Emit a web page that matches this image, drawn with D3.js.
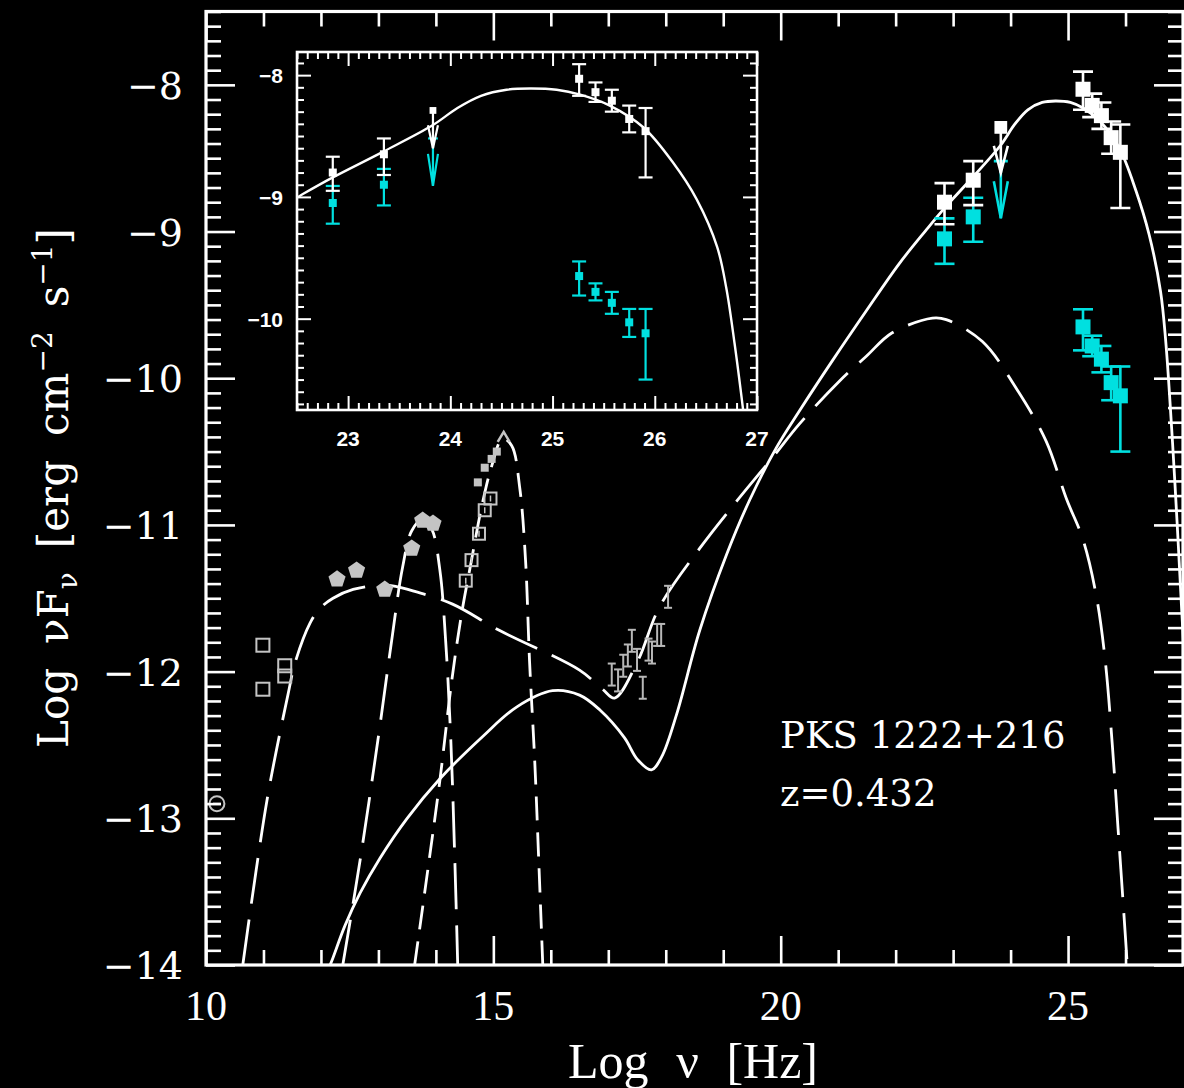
<!DOCTYPE html>
<html>
<head>
<meta charset="utf-8">
<script src="https://cdn.jsdelivr.net/npm/d3@7"></script>
<style>
  html, body { margin: 0; padding: 0; background: #000; }
  svg { display: block; }
</style>
</head>
<body>
<svg id="sed" width="1184" height="1088"></svg>
<script>
// model curves, [log nu, log nuFnu]
const solidModel = [[12.16,-14.0],[12.21,-13.95],[12.42,-13.73],[12.68,-13.51],[13.03,-13.27],[13.50,-13.00],
  [14.07,-12.73],[14.82,-12.44],[15.41,-12.24],[16.03,-12.13],[16.50,-12.16],[16.85,-12.26],[17.28,-12.45],
  [17.51,-12.60],[17.75,-12.67],[17.93,-12.58],[18.19,-12.29],[18.59,-11.72],[19.06,-11.20],[19.46,-10.83],
  [19.93,-10.47],[20.33,-10.22],[20.90,-9.88],[21.49,-9.54],[22.06,-9.22],[22.53,-8.99],[22.85,-8.84],
  [23.34,-8.63],[23.83,-8.41],[24.07,-8.27],[24.30,-8.17],[24.55,-8.12],[24.78,-8.11],[25.04,-8.12],
  [25.27,-8.16],[25.56,-8.25],[25.89,-8.43],[26.18,-8.72],[26.41,-9.02],[26.61,-9.41],[26.70,-9.75],
  [26.78,-10.20],[26.86,-10.72],[26.92,-11.15],[26.98,-11.6],[27.05,-12.1]];
const jetModel = [[10.64,-14.0],[11.06,-12.88],[11.43,-12.15],[11.55,-11.94],[11.81,-11.67],[11.98,-11.57],
  [12.21,-11.50],[12.56,-11.44],[13.15,-11.41],[13.60,-11.45],[14.29,-11.54],[15.11,-11.72],[16.50,-11.99],
  [16.90,-12.12],[17.11,-12.18],[17.51,-11.93],[17.89,-11.56],[18.59,-11.16],[19.23,-10.84],[19.86,-10.54],
  [20.33,-10.31],[21.02,-10.02],[21.49,-9.85],[21.94,-9.69],[22.64,-9.59],[22.88,-9.60],[23.51,-9.75],
  [24.10,-10.07],[24.62,-10.43],[24.97,-10.82],[25.26,-11.10],[25.49,-11.48],[25.64,-11.90],[25.77,-12.50],
  [25.87,-13.07],[25.99,-13.76],[26.03,-14.0]];
const torusModel = [[12.38,-14.0],[12.68,-13.29],[12.99,-12.47],[13.23,-11.79],[13.42,-11.29],[13.58,-11.04],
  [13.77,-10.96],[13.93,-11.03],[14.07,-11.31],[14.17,-11.79],[14.26,-12.47],[14.33,-13.29],[14.38,-14.0]];
const diskModel = [[13.63,-14.0],[13.86,-13.35],[14.07,-12.74],[14.28,-12.05],[14.45,-11.60],[14.62,-11.24],
  [14.80,-10.87],[14.97,-10.60],[15.16,-10.41],[15.32,-10.46],[15.46,-10.75],[15.56,-11.24],[15.63,-11.93],
  [15.72,-12.61],[15.79,-13.29],[15.86,-14.0]];

// archival points
const radioSquares = [[10.99,-11.82],[11.37,-11.96],[11.37,-12.03],[10.99,-12.12]];
const radioCircle = [[10.19,-12.90]];
const irPentagons = [[12.28,-11.37],[12.62,-11.31],[13.11,-11.44],[13.58,-11.16],[13.77,-10.97],[13.95,-10.99]];
const optSquares = [[14.52,-11.38],[14.62,-11.24],[14.75,-11.06],[14.85,-10.90],[14.95,-10.82]];
const uvDots = [[14.73,-10.71],[14.85,-10.61],[14.97,-10.55],[15.06,-10.50]];
const uvTriangle = [[15.18,-10.40]];
const xrayX = [17.06,17.17,17.26,17.34,17.41,17.50,17.60,17.70,17.76,17.85,17.92,18.04];
const xrayY = [-12.02,-12.06,-11.96,-11.89,-11.79,-11.92,-12.11,-11.85,-11.87,-11.75,-11.75,-11.49];
const xrayErr = 0.075;

// gamma-ray points: high state (white) and low state (cyan)
const latX = [22.85, 23.35];
const latHigh = [-8.80, -8.65], latHighUp = [0.13, 0.13], latHighDn = [0.15, 0.17];
const latLow = [-9.05, -8.90], latLowUp = [0.14, 0.13], latLowDn = [0.17, 0.17];
const ulX = [23.83];
const ulHigh = [-8.29], ulHighTip = [-8.60];
const ulLow = [-8.52], ulLowTip = [-8.91];
const vheX = [25.26, 25.42, 25.58, 25.75, 25.91];
const vheHigh = [-8.03, -8.14, -8.21, -8.36, -8.46];
const vheHighUp = [0.12, 0.08, 0.09, 0.11, 0.19], vheHighDn = [0.14, 0.08, 0.09, 0.11, 0.38];
const vheLow = [-9.65, -9.78, -9.87, -10.03, -10.12];
const vheLowUp = [0.12, 0.07, 0.09, 0.11, 0.20], vheLowDn = [0.16, 0.07, 0.09, 0.12, 0.38];

// axis ticks
const xMajor = [10, 15, 20, 25];
const xMinor = d3.range(10, 28).filter(v => v % 5 !== 0);
const yMajor = [-14, -13, -12, -11, -10, -9, -8];
const yMinor = d3.range(-140, -74).filter(v => v % 10 !== 0).map(v => v / 10);
const insetXMajor = [23, 24, 25, 26, 27];
const insetXMinor = d3.range(225, 271).filter(v => v % 10 !== 0).map(v => v / 10);
const insetYMajor = [-10, -9, -8];
const insetYMinor = d3.range(-107, -78).filter(v => v % 10 !== 0).map(v => v / 10);

const WHITE = '#ffffff', CYAN = '#00e0e0', GRAY = '#c4c4c4';

const svg = d3.select('#sed');
svg.append('rect').attr('width', 1184).attr('height', 1088).attr('fill', '#000');

const x = d3.scaleLinear().domain([10, 27]).range([206, 1183]);
const y = d3.scaleLinear().domain([-14, -7.5]).range([965, 11.5]);
const xi = d3.scaleLinear().domain([22.5, 27]).range([297, 757]);
const yi = d3.scaleLinear().domain([-10.75, -7.81]).range([410, 52]);

const defs = svg.append('defs');
defs.append('clipPath').attr('id', 'clipMain').append('rect')
  .attr('x', 206).attr('y', 11.5).attr('width', 977).attr('height', 953.5);
defs.append('clipPath').attr('id', 'clipInset').append('rect')
  .attr('x', 297).attr('y', 52).attr('width', 460).attr('height', 358);

const lineOf = (xs, ys) => d3.line()
  .x(d => xs(d[0])).y(d => ys(d[1]))
  .curve(d3.curveCatmullRom.alpha(0.5));

function frameTicks(g, xs, ys, xMaj, xMin, yMaj, yMin, lMaj, lMin, sw) {
  const [x0, x1] = xs.range(), [y0, y1] = ys.range();
  const sides = [
    [d3.axisBottom, xs, `translate(0,${y0})`, true],
    [d3.axisTop, xs, `translate(0,${y1})`, true],
    [d3.axisLeft, ys, `translate(${x0},0)`, false],
    [d3.axisRight, ys, `translate(${x1},0)`, false]
  ];
  sides.forEach(([ax, sc, tr, isX]) => {
    [[isX ? xMaj : yMaj, lMaj], [isX ? xMin : yMin, lMin]].forEach(([vals, len]) => {
      g.append('g').attr('transform', tr)
        .call(ax(sc).tickValues(vals).tickSize(-len).tickFormat(''))
        .call(s => s.select('.domain').remove())
        .selectAll('line').attr('stroke', WHITE).attr('stroke-width', sw);
    });
  });
  g.append('rect')
    .attr('x', x0).attr('y', y1).attr('width', x1 - x0).attr('height', y0 - y1)
    .attr('fill', 'none').attr('stroke', WHITE).attr('stroke-width', sw + 0.6);
}

function errBar(g, cx, yt, yb, cap, col, lw) {
  g.append('line').attr('x1', cx).attr('x2', cx).attr('y1', yt).attr('y2', yb)
    .attr('stroke', col).attr('stroke-width', lw);
  [yt, yb].forEach(v => g.append('line').attr('x1', cx - cap / 2).attr('x2', cx + cap / 2)
    .attr('y1', v).attr('y2', v).attr('stroke', col).attr('stroke-width', lw));
}

function square(g, cx, cy, s, col) {
  g.append('rect').attr('x', cx - s / 2).attr('y', cy - s / 2).attr('width', s).attr('height', s).attr('fill', col);
}

function arrow(g, cx, y0, y1, hl, hw, col, lw) {
  g.append('line').attr('x1', cx).attr('x2', cx).attr('y1', y0).attr('y2', y1)
    .attr('stroke', col).attr('stroke-width', lw);
  g.append('path').attr('d', `M${cx - hw},${y1 - hl}L${cx},${y1}L${cx + hw},${y1 - hl}`)
    .attr('fill', 'none').attr('stroke', col).attr('stroke-width', lw).attr('stroke-linejoin', 'miter');
}

function gammaPoints(g, xs, ys, o) {
  const sets = [
    [CYAN, latX, latLow, latLowUp, latLowDn],
    [CYAN, vheX, vheLow, vheLowUp, vheLowDn]
  ];
  // cyan upper limit
  ulX.forEach((v, i) => {
    const cx = xs(v);
    g.append('line').attr('x1', cx - o.cap * 0.35).attr('x2', cx + o.cap * 0.35)
      .attr('y1', ys(ulLow[i])).attr('y2', ys(ulLow[i])).attr('stroke', CYAN).attr('stroke-width', o.lw);
    arrow(g, cx, ys(ulLow[i]), ys(ulLowTip[i]), o.headC, o.hw, CYAN, o.lw);
  });
  sets.push([WHITE, latX, latHigh, latHighUp, latHighDn], [WHITE, vheX, vheHigh, vheHighUp, vheHighDn]);
  sets.forEach(([col, xv, yv, up, dn], k) => {
    if (k === 2) {
      ulX.forEach((v, i) => {
        const cx = xs(v);
        arrow(g, cx, ys(ulHigh[i]), ys(ulHighTip[i]), o.headW, o.hw, WHITE, o.lw);
        square(g, cx, ys(ulHigh[i]), o.sq * 0.85, WHITE);
      });
    }
    xv.forEach((v, i) => {
      const cx = xs(v);
      errBar(g, cx, ys(yv[i] + up[i]), ys(yv[i] - dn[i]), o.cap, col, o.lw);
      square(g, cx, ys(yv[i]), o.sq, col);
    });
  });
}

// stretch the word gaps so the label covers the given length
function fitWords(t, target) {
  const n = (t.text().match(/ /g) || []).length;
  const len = t.node().getComputedTextLength();
  if (n > 0 && target > len) t.style('word-spacing', ((target - len) / n) + 'px');
}

// ---------- main panel ----------
const plot = svg.append('g').attr('clip-path', 'url(#clipMain)');
const curveStyle = (p, dash, w) => p.attr('fill', 'none').attr('stroke', WHITE)
  .attr('stroke-width', w).attr('stroke-dasharray', dash);

curveStyle(plot.append('path').datum(diskModel).attr('d', lineOf(x, y)), '24,12', 2.8);
curveStyle(plot.append('path').datum(torusModel).attr('d', lineOf(x, y)), '46,16', 2.8);
curveStyle(plot.append('path').datum(jetModel).attr('d', lineOf(x, y)), '46,16', 2.8);
curveStyle(plot.append('path').datum(solidModel).attr('d', lineOf(x, y)), null, 2.8);

// archival data
const arch = plot.append('g');
radioSquares.forEach(d => arch.append('rect')
  .attr('x', x(d[0]) - 6.5).attr('y', y(d[1]) - 6.5).attr('width', 13).attr('height', 13)
  .attr('fill', 'none').attr('stroke', GRAY).attr('stroke-width', 2));
radioCircle.forEach(d => {
  arch.append('circle').attr('cx', x(d[0])).attr('cy', y(d[1])).attr('r', 7.5)
    .attr('fill', 'none').attr('stroke', GRAY).attr('stroke-width', 2);
  arch.append('line').attr('x1', x(d[0]) - 4).attr('x2', x(d[0]) + 4)
    .attr('y1', y(d[1])).attr('y2', y(d[1])).attr('stroke', GRAY).attr('stroke-width', 2);
});
const pent = d3.range(5).map(k => {
  const a = -Math.PI / 2 + k * 2 * Math.PI / 5;
  return [9 * Math.cos(a), 9 * Math.sin(a)];
});
irPentagons.forEach(d => arch.append('path')
  .attr('d', 'M' + pent.map(p => [x(d[0]) + p[0], y(d[1]) + p[1]].join(',')).join('L') + 'Z')
  .attr('fill', GRAY));
optSquares.forEach(d => {
  arch.append('rect')
    .attr('x', x(d[0]) - 6).attr('y', y(d[1]) - 6).attr('width', 12).attr('height', 12)
    .attr('fill', 'none').attr('stroke', GRAY).attr('stroke-width', 2);
  arch.append('line').attr('x1', x(d[0])).attr('x2', x(d[0]))
    .attr('y1', y(d[1]) - 3).attr('y2', y(d[1]) + 3).attr('stroke', GRAY).attr('stroke-width', 1.5);
});
uvDots.forEach(d => square(arch, x(d[0]), y(d[1]), 8, GRAY));
uvTriangle.forEach(d => arch.append('path')
  .attr('d', `M${x(d[0]) - 6},${y(d[1]) + 5}L${x(d[0])},${y(d[1]) - 5}L${x(d[0]) + 6},${y(d[1]) + 5}`)
  .attr('fill', 'none').attr('stroke', GRAY).attr('stroke-width', 2.5));
xrayX.forEach((v, i) => errBar(arch, x(v), y(xrayY[i] + xrayErr), y(xrayY[i] - xrayErr), 8, '#b8b8b8', 2));

gammaPoints(plot.append('g'), x, y, { sq: 15, cap: 20, lw: 2.6, headC: 37, headW: 27, hw: 7 });

frameTicks(svg.append('g'), x, y, xMajor, xMinor, yMajor, yMinor, 29, 15, 2.6);

// main tick labels
svg.append('g').selectAll('text').data(xMajor).join('text')
  .attr('x', d => x(d)).attr('y', 1020)
  .attr('text-anchor', 'middle').attr('fill', WHITE)
  .style('font-family', '"Liberation Serif", serif').style('font-size', '42px')
  .text(d => d);
svg.append('g').selectAll('text').data(yMajor).join('text')
  .attr('x', 183).attr('y', d => y(d) + 14)
  .attr('text-anchor', 'end').attr('fill', WHITE)
  .style('font-family', '"DejaVu Serif", serif').style('font-size', '38px')
  .text(d => '\u2212' + Math.abs(d));

// axis titles
const xTitle = svg.append('text')
  .attr('x', 693).attr('y', 1078).attr('text-anchor', 'middle').attr('fill', WHITE)
  .style('font-family', '"Liberation Serif", serif').style('font-size', '50px')
  .text('Log \u03bd [Hz]');
fitWords(xTitle, 250);

const yTitle = svg.append('text')
  .attr('transform', 'translate(68,488) rotate(-90)')
  .attr('text-anchor', 'middle').attr('fill', WHITE)
  .style('font-family', '"DejaVu Serif", serif').style('font-size', '42px');
yTitle.append('tspan').text('Log \u03bdF');
yTitle.append('tspan').attr('dy', 9).style('font-size', '28px').text('\u03bd');
yTitle.append('tspan').attr('dy', -9).text(' [erg cm');
yTitle.append('tspan').attr('dy', -16).style('font-size', '28px').text('\u22122');
yTitle.append('tspan').attr('dy', 16).text(' s');
yTitle.append('tspan').attr('dy', -16).style('font-size', '28px').text('\u22121');
yTitle.append('tspan').attr('dy', 16).text(']');
fitWords(yTitle, 520);

// source label
const srcLabel = svg.append('g').attr('fill', WHITE)
  .style('font-family', '"DejaVu Serif", serif').style('font-size', '37px');
srcLabel.append('text').attr('x', 780).attr('y', 748).text('PKS 1222+216');
srcLabel.append('text').attr('x', 780).attr('y', 806).text('z=0.432');

// ---------- inset ----------
const inset = svg.append('g');
inset.append('rect').attr('x', 297).attr('y', 52).attr('width', 460).attr('height', 358).attr('fill', '#000');
const iplot = inset.append('g').attr('clip-path', 'url(#clipInset)');
curveStyle(iplot.append('path').datum(solidModel).attr('d', lineOf(xi, yi)), null, 2.4);
gammaPoints(iplot.append('g'), xi, yi, { sq: 8, cap: 14, lw: 2.2, headC: 32, headW: 23, hw: 5 });
frameTicks(inset, xi, yi, insetXMajor, insetXMinor, insetYMajor, insetYMinor, 14, 7, 2);

inset.append('g').selectAll('text').data(insetXMajor).join('text')
  .attr('x', d => xi(d)).attr('y', 446)
  .attr('text-anchor', 'middle').attr('fill', WHITE)
  .style('font-family', '"Liberation Sans", sans-serif').style('font-size', '21px').style('font-weight', 'bold')
  .text(d => d);
inset.append('g').selectAll('text').data(insetYMajor).join('text')
  .attr('x', 283).attr('y', d => yi(d) + 8)
  .attr('text-anchor', 'end').attr('fill', WHITE)
  .style('font-family', '"Liberation Sans", sans-serif').style('font-size', '21px').style('font-weight', 'bold')
  .text(d => '\u2212' + Math.abs(d));
</script>
</body>
</html>
